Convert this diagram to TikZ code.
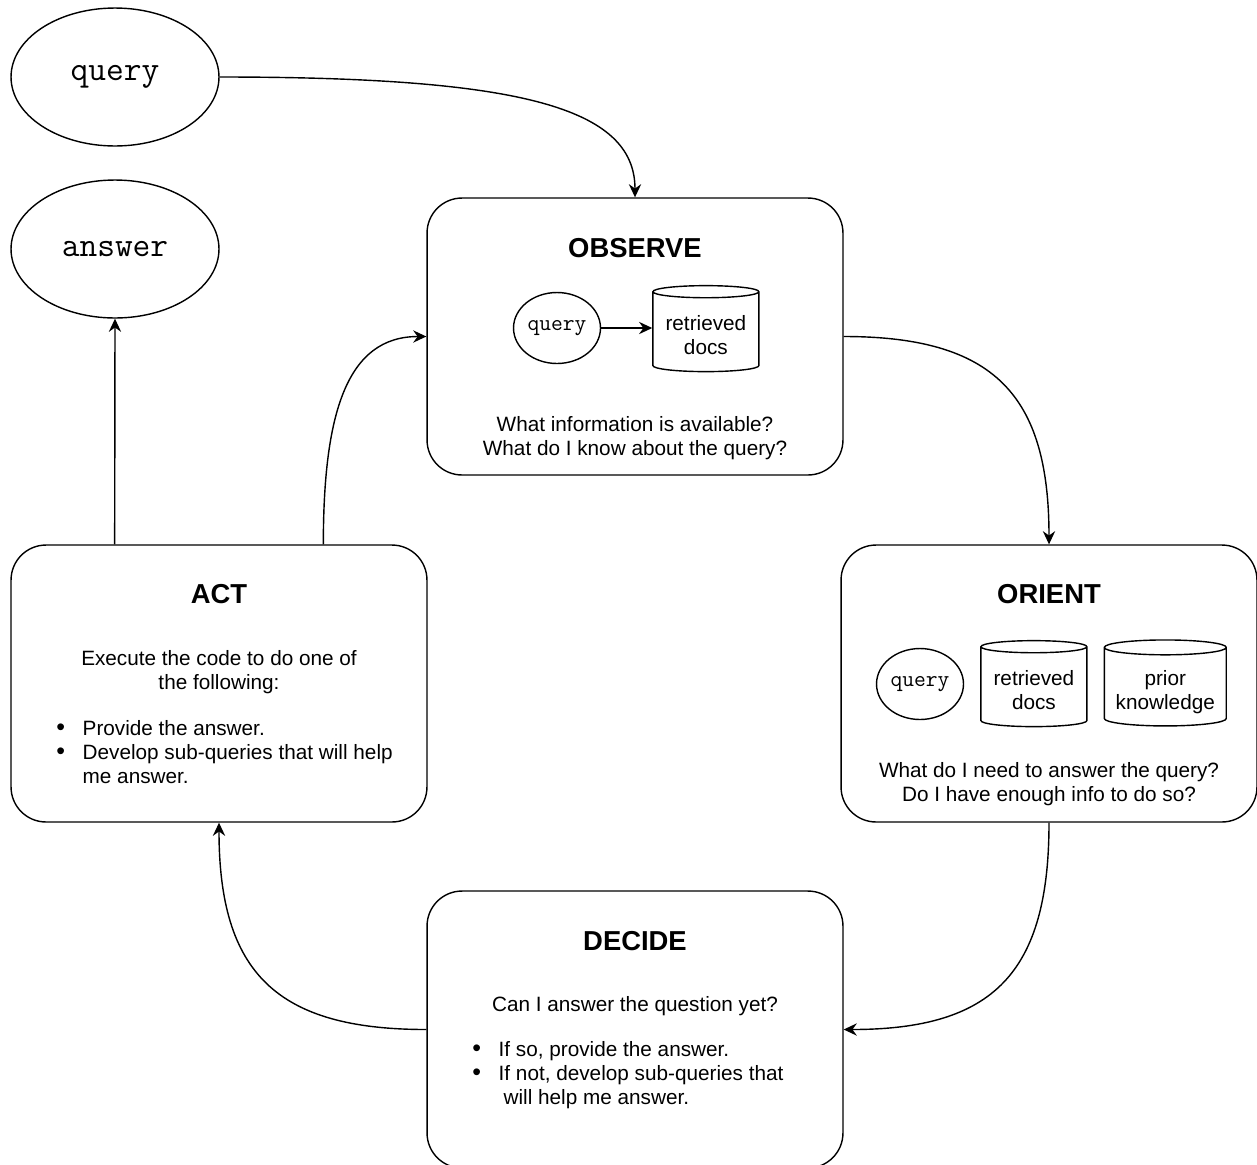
\documentclass[tikz,border=0pt]{standalone}
\usepackage{fontspec}
\setmainfont{Liberation Sans}
\usepackage{tikz}
\usetikzlibrary{calc, positioning, arrows.meta, shapes.geometric}
\tikzset{
    phase/.style={rectangle, draw=black, line width=0.8pt, rounded corners=0.7cm, minimum width=8.32cm, minimum height=5.54cm, inner sep=0pt},
    phasetitle/.style={font=\fontsize{15.6}{18}\selectfont\bfseries, inner sep=0pt},
    note/.style={font=\fontsize{11.8}{13.7}\selectfont, align=center, inner sep=0pt},
    bullets/.style={font=\fontsize{11.8}{13.7}\selectfont, align=left, inner sep=0pt},
    io/.style={ellipse, draw=black, line width=0.8pt, minimum width=4.16cm, minimum height=2.76cm, inner sep=0pt, font=\ttfamily\fontsize{19.6}{22}\selectfont},
    qsmall/.style={ellipse, draw=black, line width=0.8pt, minimum width=1.74cm, minimum height=1.42cm, inner sep=0pt, font=\ttfamily\fontsize{13}{15}\selectfont},
    store/.style={cylinder, shape border rotate=90, aspect=0.15, draw=black, line width=0.8pt, minimum width=2.12cm, minimum height=1.72cm, inner sep=0pt, font=\fontsize{11.8}{13.7}\selectfont},
    arrow/.style={-{Stealth[length=7.5pt, width=7pt, inset=2.5pt]}, line width=0.8pt}
}
\newcommand{\bitem}[1]{\makebox[15pt][l]{\raisebox{-0.3pt}{\scalebox{1.2}{\textbullet}}}#1}
\newcommand{\cyltext}[1]{\raisebox{-0.12cm}[\height][\depth]{\begin{tabular}{@{}c@{}}#1\end{tabular}}}

\begin{document}
\begin{tikzpicture}[x=0.02cm, y=-0.02cm]
    \useasboundingbox (0,0) rectangle (1257,1164);

    % Input and output
    \node[io] (query) at (115,77) {query};
    \node[io] (answer) at (115,249) {answer};

    % Observe
    \node[phase] (observe) at (635,336.5) {};
    \node[phasetitle] at (635,248) {OBSERVE};
    \node[qsmall] (obsquery) at (557,328) {query};
    \node[store, right=1.02cm of obsquery, yshift=-0.08cm] (obsdocs) {\cyltext{retrieved\\docs}};
    \node[note] at (635,438) {What information is available?\\What do I know about the query?};

    % Orient
    \node[phase] (orient) at (1049,683.5) {};
    \node[phasetitle] at (1049,594) {ORIENT};
    \node[qsmall] (orquery) at (920,684) {query};
    \node[store, right=0.32cm of orquery, yshift=-0.06cm] (ordocs) {\cyltext{retrieved\\docs}};
    \node[store, right=0.32cm of ordocs, minimum width=2.44cm] (orprior) {\cyltext{prior\\knowledge}};
    \node[note] at (1049,784) {What do I need to answer the query?\\Do I have enough info to do so?};

    % Decide
    \node[phase] (decide) at (635,1029.5) {};
    \node[phasetitle] at (635,941) {DECIDE};
    \node[note] at (635,1006) {Can I answer the question yet?};
    \node[bullets, anchor=west] at (472,1075) {\bitem{If so, provide the answer.}\\\bitem{If not, develop sub-queries that}\\\makebox[17.8pt]{}will help me answer.};

    % Act
    \node[phase] (act) at (219,683.5) {};
    \node[phasetitle] at (219,594) {ACT};
    \node[note] at (219,672) {Execute the code to do one of\\the following:};
    \node[bullets, anchor=west] at (56,752) {\bitem{Provide the answer.}\\\bitem{Develop sub-queries that will help}\\\makebox[15pt]{}me answer.};

    % Loop
    \draw[arrow] (query.east) .. controls +(300,0) and +(0,-90) .. (observe.north);
    \draw[arrow] (observe.east) .. controls +(150,0) and +(0,-150) .. (orient.north);
    \draw[arrow] (orient.south) .. controls +(0,150) and +(150,0) .. (decide.east);
    \draw[arrow] (decide.west) .. controls +(-150,0) and +(0,150) .. (act.south);
    \draw[arrow] ($(act.north)!0.5!(act.north east)$) .. controls +(0,-130) and +(-80,0) .. (observe.west);
    \draw[arrow] ($(act.north)!0.5!(act.north west)$) -- (answer.south);
    \draw[arrow] (obsquery.east) -- (obsquery.east -| obsdocs.west);
\end{tikzpicture}
\end{document}
